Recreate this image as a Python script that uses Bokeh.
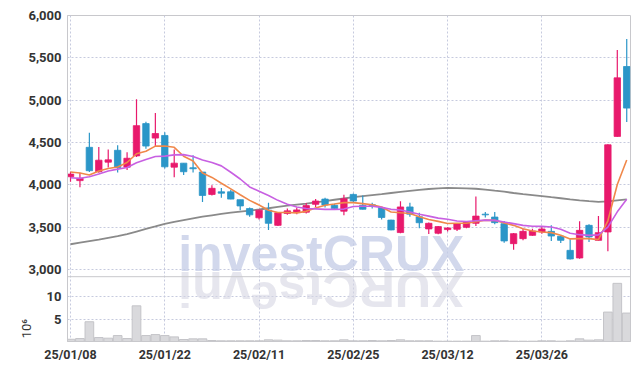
import numpy as np
from bokeh.plotting import figure
from bokeh.models import Range1d, FixedTicker, NumeralTickFormatter, ColumnDataSource, Span
from bokeh.embed import file_html
from bokeh.resources import INLINE
from bokeh.core.properties import value

# ---------------- data ----------------
dates = ["25/01/08", "25/01/09", "25/01/10", "25/01/13", "25/01/14", "25/01/15", "25/01/16", "25/01/17",
         "25/01/20", "25/01/21", "25/01/22", "25/01/23", "25/01/24", "25/01/31", "25/02/03", "25/02/04",
         "25/02/05", "25/02/06", "25/02/07", "25/02/10", "25/02/11", "25/02/12", "25/02/13", "25/02/14",
         "25/02/17", "25/02/18", "25/02/19", "25/02/20", "25/02/21", "25/02/24", "25/02/25", "25/02/26",
         "25/02/27", "25/02/28", "25/03/04", "25/03/05", "25/03/06", "25/03/07", "25/03/10", "25/03/11",
         "25/03/12", "25/03/13", "25/03/14", "25/03/17", "25/03/18", "25/03/19", "25/03/20", "25/03/21",
         "25/03/24", "25/03/25", "25/03/26", "25/03/27", "25/03/28", "25/03/31", "25/04/01", "25/04/02",
         "25/04/03", "25/04/04", "25/04/07", "25/04/08"]

open_ = [4097, 4051, 4444, 4156, 4269, 4409, 4210, 4343, 4724, 4553,
         4584, 4210, 4257, 4203, 4152, 3888, 3919, 3919, 3826, 3721,
         3612, 3702, 3523, 3663, 3674, 3678, 3771, 3833, 3760, 3690,
         3888, 3760, 3767, 3733, 3585, 3438, 3740, 3624, 3481, 3430,
         3473, 3477, 3500, 3547, 3655, 3621, 3543, 3307, 3366, 3405,
         3445, 3452, 3394, 3228, 3138, 3523, 3346, 3445, 4573, 5398]
high = [4156, 4144, 4615, 4448, 4417, 4467, 4385, 5012, 4747, 4848,
        4623, 4417, 4257, 4350, 4152, 3995, 3965, 3942, 3826, 3733,
        3709, 3791, 3678, 3721, 3733, 3787, 3833, 3849, 3779, 3884,
        3900, 3876, 3791, 3740, 3590, 3806, 3791, 3671, 3558, 3516,
        3500, 3547, 3570, 3864, 3682, 3680, 3574, 3433, 3484, 3484,
        3503, 3523, 3405, 3358, 3570, 3535, 3633, 4480, 5594, 5724]
low = [4039, 3973, 4152, 4144, 4206, 4148, 4175, 4331, 4428, 4455,
       4195, 4090, 4117, 4148, 3798, 3875, 3849, 3830, 3702, 3624,
       3593, 3469, 3516, 3647, 3655, 3663, 3740, 3733, 3710, 3643,
       3790, 3709, 3721, 3593, 3465, 3430, 3624, 3488, 3422, 3419,
       3450, 3457, 3488, 3516, 3616, 3535, 3319, 3236, 3346, 3400,
       3425, 3339, 3315, 3120, 3130, 3327, 3340, 3217, 4570, 4742]
close = [4128, 4078, 4168, 4292, 4296, 4206, 4315, 4700, 4459, 4607,
         4214, 4257, 4156, 4191, 3876, 3960, 3903, 3833, 3752, 3647,
         3702, 3547, 3671, 3694, 3705, 3756, 3810, 3764, 3721, 3837,
         3810, 3713, 3756, 3616, 3469, 3740, 3655, 3554, 3547, 3508,
         3492, 3539, 3566, 3632, 3647, 3555, 3339, 3425, 3452, 3456,
         3480, 3397, 3346, 3126, 3464, 3386, 3437, 4474, 5264, 4907]

ma5 = [4152, 4140, 4117, 4164, 4195, 4212, 4265, 4368, 4398, 4458,
       4459, 4444, 4339, 4283, 4140, 4089, 4020, 3953, 3884, 3818,
       3763, 3702, 3674, 3674, 3670, 3688, 3729, 3760, 3775, 3791,
       3791, 3779, 3767, 3740, 3680, 3671, 3663, 3624, 3593, 3570,
       3545, 3547, 3547, 3566, 3585, 3582, 3551, 3523, 3484, 3456,
       3445, 3437, 3405, 3363, 3366, 3366, 3355, 3577, 4005, 4294]
ma10 = [4085, 4078, 4097, 4129, 4165, 4187, 4206, 4261, 4300, 4335,
        4340, 4355, 4358, 4335, 4295, 4265, 4225, 4150, 4070, 3976,
        3926, 3876, 3818, 3771, 3740, 3721, 3717, 3712, 3712, 3715,
        3745, 3748, 3748, 3735, 3712, 3705, 3680, 3655, 3632, 3608,
        3595, 3575, 3568, 3578, 3585, 3582, 3563, 3543, 3523, 3512,
        3511, 3504, 3476, 3430, 3413, 3405, 3410, 3502, 3683, 3830]
ma_long = [3300, 3318, 3336, 3354, 3375, 3395, 3420, 3450, 3480, 3510,
           3541, 3565, 3585, 3605, 3625, 3642, 3658, 3672, 3685, 3697,
           3710, 3725, 3740, 3755, 3768, 3780, 3795, 3810, 3825, 3840,
           3855, 3868, 3880, 3892, 3905, 3918, 3930, 3942, 3952, 3960,
           3965, 3963, 3960, 3955, 3945, 3932, 3920, 3905, 3892, 3880,
           3868, 3855, 3843, 3830, 3818, 3808, 3800, 3805, 3818, 3830]

volume_m = [0.5, 0.66, 4.4, 0.88, 0.74, 1.32, 0.66, 7.94, 1.32, 1.54,
            1.32, 1.03, 0.44, 0.59, 0.59, 0.22, 0.15, 0.15, 0.15, 0.15,
            0.15, 0.37, 0.3, 0.15, 0.15, 0.22, 0.22, 0.15, 0.15, 0.37,
            0.15, 0.15, 0.22, 0.15, 0.22, 0.37, 0.15, 0.15, 0.15, 0.07,
            0.07, 0.07, 0.07, 1.32, 0.07, 0.15, 0.15, 0.07, 0.07, 0.07,
            0.15, 0.15, 0.07, 0.15, 0.59, 0.3, 0.37, 6.55, 12.95, 6.33]

tick_dates = ["25/01/08", "25/01/22", "25/02/11", "25/02/25", "25/03/12", "25/03/26"]
price_ticks = [3000, 3500, 4000, 4500, 5000, 5500, 6000]
volume_ticks = [5, 10]
volume_unit_label = "10\u2076"
watermark = "investCRUX"

# ---------------- styling / layout ----------------
UP = "#e8196c"
DOWN = "#2b96c8"
GRID = "#c6cade"
AXIS = "#c8c8cc"
LABEL_FONT = "Roboto"
W = 631
LEFT = 67
RIGHT = 1
TOP = 15
PRICE_FRAME_H = 262
VOL_FRAME_H = 65
BOTTOM = 22

x_start, x_end = -0.32, 59.4
p_hi = 6000
p_panel_lo = 2917                      # price at the panel separator
FRAME_H = PRICE_FRAME_H + VOL_FRAME_H
p_lo = round(p_hi - (p_hi - p_panel_lo) * FRAME_H / PRICE_FRAME_H)   # price value at frame bottom
K = 53                                 # price units per 1e6 shares on the shared frame
vol_range_end = (p_hi - p_lo) / K

idx = np.arange(len(dates))
o = np.array(open_, float)
c = np.array(close, float)
colors = [UP if ci >= oi else DOWN for oi, ci in zip(o, c)]
src = ColumnDataSource(dict(x=idx, high=high, low=low,
                            top=np.maximum(o, c), bottom=np.minimum(o, c), color=colors,
                            vol=volume_m, ma5=ma5, ma10=ma10, malong=ma_long))

tick_pos = [dates.index(d) for d in tick_dates]
vol_tick_pos = [p_lo + K * t for t in volume_ticks]

px_per_x = (W - LEFT - RIGHT) / (x_end - x_start)


def px_to_x(px):
    return x_start + (px - LEFT) / px_per_x


def px_to_price(py):
    return p_hi - (py - TOP) / FRAME_H * (p_hi - p_lo)


p = figure(width=W, height=TOP + FRAME_H + BOTTOM,
           x_range=Range1d(x_start, x_end), y_range=Range1d(p_lo, p_hi),
           output_backend="svg", toolbar_location=None,
           min_border_left=LEFT, min_border_right=RIGHT, min_border_top=TOP, min_border_bottom=BOTTOM)
p.extra_y_ranges = {"vol": Range1d(0, vol_range_end)}
p.background_fill_color = "white"
p.border_fill_color = "white"
p.outline_line_color = AXIS

# grids
p.xgrid.ticker = FixedTicker(ticks=tick_pos)
p.xgrid.grid_line_color = GRID
p.xgrid.grid_line_dash = "2 2"
p.ygrid.grid_line_color = GRID
p.ygrid.grid_line_dash = "2 2"

# y axis: price ticks in the upper panel, volume ticks in the lower panel
ya = p.yaxis[0]
ya.ticker = FixedTicker(ticks=price_ticks + vol_tick_pos)
ya.formatter = NumeralTickFormatter(format="0,0")
ya.major_label_overrides = {int(pos): str(t) for pos, t in zip(vol_tick_pos, volume_ticks)}
ya.axis_line_color = AXIS
ya.major_tick_line_color = None
ya.minor_tick_line_color = None
ya.major_tick_out = 0
ya.major_tick_in = 0
ya.minor_tick_out = 0
ya.major_label_standoff = 6
ya.major_label_text_font = LABEL_FONT
ya.major_label_text_font_style = "bold"
ya.major_label_text_font_size = "13px"
ya.major_label_text_color = "#333333"
# unit label of the volume panel, placed at the lower end of the axis
ya.axis_label = "\u00a0" * 8 + volume_unit_label
ya.axis_label_standoff = -9
ya.axis_label_text_font = LABEL_FONT
ya.axis_label_text_font_style = "normal"
ya.axis_label_text_font_size = "13px"
ya.axis_label_text_color = "#333333"
try:
    ya.axis_label_align = "start"
except Exception:
    try:
        ya.axis_label_align = "left"
    except Exception:
        pass

xa = p.xaxis[0]
xa.ticker = FixedTicker(ticks=tick_pos)
xa.major_label_overrides = {int(t): d for t, d in zip(tick_pos, tick_dates)}
xa.axis_line_color = AXIS
xa.major_tick_line_color = None
xa.minor_tick_line_color = None
xa.major_tick_out = 0
xa.major_tick_in = 0
xa.minor_tick_out = 0
xa.major_label_standoff = 5
xa.major_label_text_font = LABEL_FONT
xa.major_label_text_font_style = "bold"
xa.major_label_text_font_size = "12.5px"
xa.major_label_text_color = "#333333"

# panel separator
p.add_layout(Span(location=p_panel_lo, dimension="width", line_color=AXIS, line_width=1))

# watermark (Liberation Sans Bold advance widths in em units)
char_w = {"i": 0.278, "n": 0.611, "v": 0.556, "e": 0.556, "s": 0.556, "t": 0.333,
          "C": 0.722, "R": 0.722, "U": 0.722, "X": 0.667}
WM_SIZE = 50
wm_left_px = 177.7
wm_top_px = 226
refl_anchor_px = 317
centers = []
acc = wm_left_px
for ch in watermark:
    w = char_w[ch] * WM_SIZE
    centers.append(px_to_x(acc + w / 2))
    acc += w

p.text(x=[px_to_x(wm_left_px)], y=[px_to_price(wm_top_px)], text=[watermark],
       text_align="left", text_baseline="top",
       text_font=value("Liberation Sans"), text_font_style="bold",
       text_font_size=value(f"{WM_SIZE}px"), text_color="#c3cbe5", text_alpha=0.75)
p.text(x=centers, y=[px_to_price(refl_anchor_px)] * len(centers), text=list(watermark), angle=np.pi,
       text_align="center", text_baseline="top",
       text_font=value("Liberation Sans"), text_font_style="bold",
       text_font_size=value(f"{WM_SIZE}px"), text_color="#d6d6e2", text_alpha=0.6)

# volume bars
p.vbar(x="x", width=0.92, top="vol", bottom=0, source=src, y_range_name="vol",
       fill_color="#d9d9dc", line_color="#c4c4c8", line_width=1)

# price
p.line("x", "malong", source=src, line_color="#8a8a8a", line_width=1.8)
p.segment(x0="x", y0="low", x1="x", y1="high", source=src, line_color="color", line_width=1.2)
p.vbar(x="x", width=0.68, top="top", bottom="bottom", source=src,
       fill_color="color", line_color="color", line_width=0.8)
p.line("x", "ma5", source=src, line_color="#f0884a", line_width=1.6)
p.line("x", "ma10", source=src, line_color="#c860e2", line_width=1.6)

open("out.html", "w").write(file_html(p, INLINE))
